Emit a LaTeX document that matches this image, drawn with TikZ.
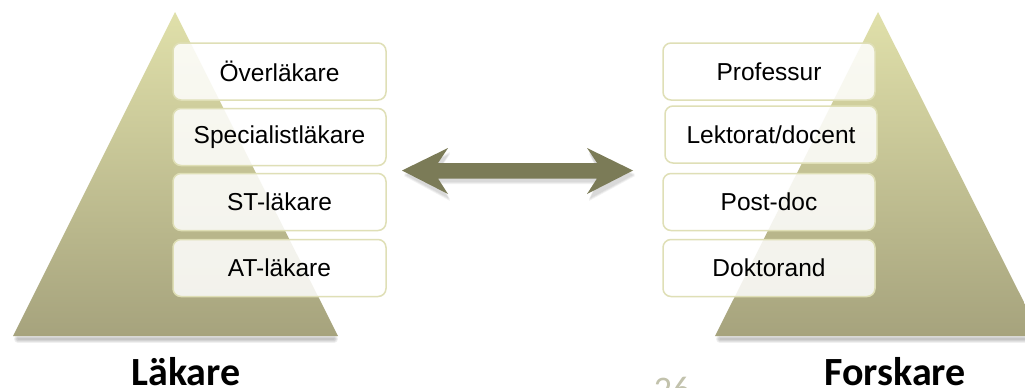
\documentclass[tikz,border=0pt]{standalone}
\usepackage{fontspec}
\setmainfont{Liberation Sans}
\newfontfamily\carlito{Carlito}
\definecolor{pyrtop}{HTML}{E0E0AA}
\definecolor{pyrbot}{HTML}{A6A37D}
\definecolor{arrowc}{HTML}{7B7B57}
\definecolor{boxline}{HTML}{DFDFB6}
\definecolor{numc}{HTML}{C2C2AC}
\tikzset{
  pyr/.style={top color=pyrtop, bottom color=pyrbot, draw=none},
  lvl/.style={draw=boxline, line width=1.5pt, fill=white, fill opacity=0.85, text opacity=1,
    rounded corners=8pt, minimum width=213pt, minimum height=57pt, inner sep=0pt,
    font=\fontsize{24.5}{28}\selectfont},
  title/.style={font=\carlito\bfseries\fontsize{40}{44}\selectfont, anchor=base},
  shad/.style={line width=#1, draw=black, opacity=0.06, line cap=round},
}
\begin{document}
\begin{tikzpicture}[x=1pt,y=-1pt]
\useasboundingbox (0,0) rectangle (1025,388);
\clip (0,0) rectangle (1025,388);
\fill[white] (0,0) rectangle (1025,388);
% shadows of pyramid bases
\foreach \w in {2,4,6,8}{
  \draw[shad=\w pt] (18,339) -- (334,339);
  \draw[shad=\w pt] (720,339) -- (1030,339);
}
% pyramids
\path[pyr] (175,12) -- (338,336) -- (13,336) -- cycle;
\path[pyr] (878,12) -- (1041,336) -- (715,336) -- cycle;
% arrow shadow
\foreach \d in {2,3,4}{
  \fill[black, opacity=0.05] (404,172+\d) -- (450,150+\d) -- (440,165+\d) -- (597,165+\d) -- (589,150+\d) -- (635,172+\d) -- (589,197+\d) -- (597,180+\d) -- (440,180+\d) -- (450,197+\d) -- cycle;
}
% double arrow
\coordinate (al) at (402,170.5);
\coordinate (ar) at (633,170.5);
\fill[arrowc] (al) -- (448,148) -- (438,163) -- (597,163) -- (587,148) -- (ar) -- (587,194) -- (597,178.5) -- (438,178.5) -- (448,194) -- cycle;
% left levels
\node[lvl] (l1) at (279.5,71.5) {Överläkare};
\node[lvl] (l2) at (279.5,137) {Specialistläkare};
\node[lvl] (l3) at (279.5,202) {ST-läkare};
\node[lvl] (l4) at (279.5,268) {AT-läkare};
% right levels
\node[lvl, minimum width=212pt] (r1) at (769,71.5) {Professur};
\node[lvl, minimum width=212pt] (r2) at (771,134.5) {Lektorat/docent};
\node[lvl, minimum width=212pt] (r3) at (769,202) {Post-doc};
\node[lvl, minimum width=212pt] (r4) at (769,268) {Doktorand};
% titles
\node[title] (tl) at (186,385) {Läkare};
\node[title] (tr) at (895,385) {Forskare};
\node[font=\carlito\fontsize{36}{40}\selectfont, text=numc, anchor=base] (num) at (672,401) {26};
\end{tikzpicture}
\end{document}
